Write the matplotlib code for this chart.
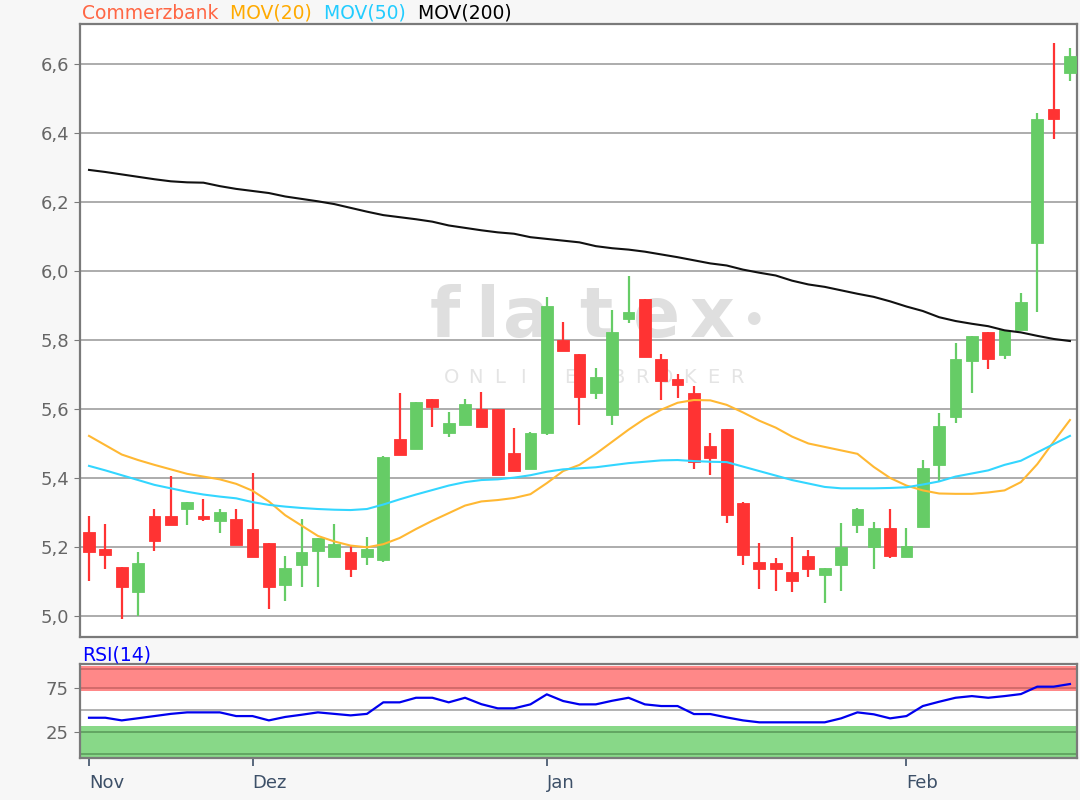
import numpy as np
import matplotlib.pyplot as plt
from matplotlib.ticker import FuncFormatter

# daily candles, Nov .. mid Feb
opens = [5.244, 5.193, 5.141, 5.068, 5.291, 5.291, 5.310, 5.291, 5.276, 5.280,
         5.251, 5.211, 5.090, 5.148, 5.188, 5.172, 5.186, 5.172, 5.161, 5.512,
         5.484, 5.628, 5.531, 5.554, 5.599, 5.599, 5.472, 5.425, 5.530, 5.800,
         5.759, 5.647, 5.583, 5.860, 5.918, 5.744, 5.686, 5.646, 5.493, 5.541,
         5.327, 5.157, 5.153, 5.128, 5.175, 5.119, 5.148, 5.264, 5.201, 5.256,
         5.172, 5.259, 5.438, 5.578, 5.740, 5.824, 5.757, 5.829, 6.082, 6.469,
         6.575]
highs = [5.291, 5.268, 5.141, 5.186, 5.309, 5.407, 5.331, 5.338, 5.309, 5.309,
         5.414, 5.211, 5.175, 5.280, 5.227, 5.268, 5.203, 5.228, 5.465, 5.645,
         5.621, 5.628, 5.592, 5.628, 5.650, 5.599, 5.546, 5.532, 5.924, 5.853,
         5.759, 5.720, 5.887, 5.986, 5.918, 5.759, 5.701, 5.667, 5.530, 5.541,
         5.331, 5.211, 5.169, 5.228, 5.191, 5.140, 5.269, 5.314, 5.273, 5.309,
         5.256, 5.452, 5.588, 5.790, 5.812, 5.824, 5.830, 5.935, 6.457, 6.660,
         6.647]
lows = [5.101, 5.136, 4.991, 5.001, 5.188, 5.264, 5.264, 5.275, 5.240, 5.205,
        5.172, 5.020, 5.043, 5.085, 5.085, 5.172, 5.112, 5.147, 5.155, 5.467,
        5.484, 5.549, 5.520, 5.554, 5.549, 5.409, 5.420, 5.425, 5.525, 5.769,
        5.554, 5.628, 5.554, 5.848, 5.752, 5.626, 5.631, 5.425, 5.409, 5.269,
        5.148, 5.077, 5.072, 5.068, 5.114, 5.039, 5.072, 5.240, 5.136, 5.169,
        5.172, 5.259, 5.389, 5.560, 5.645, 5.715, 5.744, 5.829, 5.882, 6.382,
        6.551]
closes = [5.184, 5.177, 5.085, 5.153, 5.218, 5.264, 5.331, 5.280, 5.302, 5.205,
          5.172, 5.085, 5.140, 5.186, 5.227, 5.209, 5.136, 5.193, 5.460, 5.467,
          5.621, 5.607, 5.559, 5.614, 5.549, 5.409, 5.420, 5.530, 5.899, 5.769,
          5.636, 5.692, 5.824, 5.882, 5.752, 5.682, 5.670, 5.447, 5.457, 5.293,
          5.177, 5.136, 5.136, 5.101, 5.136, 5.140, 5.199, 5.309, 5.256, 5.175,
          5.203, 5.430, 5.552, 5.744, 5.812, 5.744, 5.829, 5.911, 6.440, 6.440,
          6.623]

mov20 = [5.522, 5.495, 5.468, 5.452, 5.438, 5.425, 5.412, 5.404, 5.396, 5.383,
         5.363, 5.332, 5.292, 5.262, 5.232, 5.216, 5.204, 5.199, 5.208, 5.226,
         5.252, 5.276, 5.298, 5.320, 5.332, 5.336, 5.342, 5.353, 5.385, 5.420,
         5.438, 5.470, 5.505, 5.540, 5.572, 5.598, 5.618, 5.626, 5.625, 5.612,
         5.590, 5.566, 5.546, 5.520, 5.500, 5.490, 5.480, 5.470, 5.432, 5.400,
         5.378, 5.364, 5.355, 5.354, 5.354, 5.358, 5.364, 5.388, 5.440, 5.505,
         5.568]
mov50 = [5.435, 5.422, 5.408, 5.394, 5.380, 5.370, 5.360, 5.352, 5.346, 5.341,
         5.330, 5.322, 5.317, 5.313, 5.310, 5.308, 5.307, 5.310, 5.323, 5.338,
         5.352, 5.365, 5.378, 5.388, 5.394, 5.396, 5.401, 5.408, 5.418, 5.425,
         5.428, 5.431, 5.437, 5.443, 5.447, 5.451, 5.452, 5.449, 5.447, 5.446,
         5.433, 5.420, 5.407, 5.394, 5.384, 5.374, 5.370, 5.370, 5.370, 5.371,
         5.373, 5.381, 5.390, 5.404, 5.413, 5.422, 5.438, 5.450, 5.474, 5.498,
         5.522]
mov200 = [6.293, 6.287, 6.280, 6.273, 6.266, 6.260, 6.257, 6.256, 6.246, 6.238,
          6.232, 6.226, 6.216, 6.209, 6.202, 6.194, 6.183, 6.172, 6.162, 6.156,
          6.150, 6.143, 6.132, 6.125, 6.118, 6.112, 6.108, 6.098, 6.093, 6.088,
          6.083, 6.072, 6.066, 6.062, 6.056, 6.048, 6.040, 6.031, 6.022, 6.016,
          6.004, 5.995, 5.987, 5.972, 5.961, 5.954, 5.944, 5.934, 5.925, 5.912,
          5.897, 5.884, 5.866, 5.855, 5.847, 5.840, 5.828, 5.822, 5.812, 5.803,
          5.797]

rsi = [41.6, 41.6, 38.6, 41.0, 43.5, 46.0, 47.7, 47.7, 47.7, 43.5,
       43.5, 38.6, 42.5, 45.0, 47.7, 46.0, 44.3, 46.0, 59.1, 59.1,
       64.3, 64.3, 59.1, 64.3, 57.0, 52.3, 52.3, 56.8, 68.2, 60.6,
       56.8, 56.8, 60.9, 64.3, 56.8, 54.9, 54.9, 45.8, 45.8, 42.0,
       38.6, 36.4, 36.4, 36.4, 36.4, 36.4, 40.9, 47.7, 45.5, 40.9,
       43.5, 54.9, 59.8, 64.3, 66.2, 64.3, 66.2, 68.5, 76.9, 76.9,
       79.9]

month_pos = [0, 10, 28, 50]
month_labels = ["Nov", "Dez", "Jan", "Feb"]
price_ticks = [5.0, 5.2, 5.4, 5.6, 5.8, 6.0, 6.2, 6.4, 6.6]
rsi_ticks = [25, 75]

UP = "#66cc66"
DOWN = "#ff3333"
GRID = "#a6a6a6"
FRAME = "#7a7a7a"
TICKC = "#666666"
FS = 13

x = np.arange(len(opens))
o = np.array(opens)
c = np.array(closes)
colors = [UP if cc >= oo else DOWN for oo, cc in zip(o, c)]

fig = plt.figure(figsize=(10.8, 8), dpi=100, facecolor="#f7f7f7")
ax = fig.add_axes([0.0741, 0.20375, 0.9231, 0.76625])
ax2 = fig.add_axes([0.0741, 0.0521, 0.9231, 0.1175])

# main price panel
ax.set_facecolor("white")
ax.set_xlim(-0.55, 60.43)
ax.set_ylim(4.939, 6.716)
for v in price_ticks:
    ax.axhline(v, color=GRID, lw=1.3, zorder=1)

# watermark, letters placed one by one (axes fractions)
for ch, px in zip("flatex", [0.366, 0.408, 0.448, 0.517, 0.578, 0.634]):
    ax.text(px, 0.489, ch, transform=ax.transAxes, ha="center", va="baseline",
            fontsize=50, color="#dfdfdf", weight="bold", zorder=0)
ax.text(0.675, 0.52, "\u25cf", transform=ax.transAxes, ha="center", va="center",
        fontsize=12, color="#dfdfdf", zorder=0)
for i, ch in enumerate("ONLINE BROKER"):
    ax.text(0.373 + i * 0.0238, 0.424, ch, transform=ax.transAxes, ha="center",
            va="center", fontsize=14, color="#e4e4e4", zorder=0)

ax.vlines(x, lows, highs, colors=colors, lw=1.6, zorder=3)
ax.bar(x, np.abs(c - o), bottom=np.minimum(o, c), width=0.72, color=colors,
       edgecolor=colors, linewidth=0.6, zorder=4)

ax.plot(x, mov20, color="#ffb833", lw=1.5, zorder=5)
ax.plot(x, mov50, color="#33d6ff", lw=1.5, zorder=5)
ax.plot(x, mov200, color="#111111", lw=1.5, zorder=5)

ax.set_yticks(price_ticks)
ax.yaxis.set_major_formatter(FuncFormatter(lambda v, p: ("%.1f" % v).replace(".", ",")))
ax.set_xticks([])
ax.tick_params(axis="y", length=4, color=FRAME, labelcolor=TICKC, labelsize=FS, pad=4)
for s in ax.spines.values():
    s.set_color(FRAME)
    s.set_linewidth(1.6)

# legend-like title in coloured words
t1 = fig.text(0.0759, 0.9835, "Commerzbank", color="#ff6644", fontsize=13.5, va="center")
t2 = ax.annotate("  MOV(20)", xy=(1, 0), xycoords=t1, va="bottom", color="#ffaa00", fontsize=13.5)
t3 = ax.annotate("  MOV(50)", xy=(1, 0), xycoords=t2, va="bottom", color="#22ccff", fontsize=13.5)
ax.annotate("  MOV(200)", xy=(1, 0), xycoords=t3, va="bottom", color="#000000", fontsize=13.5)

# RSI panel
ax2.set_facecolor("white")
ax2.set_xlim(-0.55, 60.43)
ax2.set_ylim(-4.5, 102.3)
ax2.axhspan(72, 100.7, color="#ff8888", lw=0, zorder=1)
ax2.axhspan(-2.7, 32.5, color="#88d888", lw=0, zorder=1)
ax2.axhline(97.5, color="#cc6666", lw=1.2, zorder=2)
ax2.axhline(75, color="#cc6666", lw=1.2, zorder=2)
ax2.axhline(25, color="#5c9c5c", lw=1.2, zorder=2)
ax2.axhline(0, color="#5c9c5c", lw=1.2, zorder=2)
ax2.axhline(50, color=GRID, lw=1.2, zorder=2)
ax2.plot(x, rsi, color="#0000ee", lw=1.6, zorder=3)

ax2.set_yticks(rsi_ticks)
ax2.set_yticklabels([str(t) for t in rsi_ticks])
ax2.set_xticks(month_pos)
ax2.set_xticklabels(month_labels, ha="left")
ax2.tick_params(axis="y", length=4, color=FRAME, labelcolor=TICKC, labelsize=FS, pad=4)
ax2.tick_params(axis="x", length=6, width=1.2, color="#3d5068", labelcolor="#3d5068",
                labelsize=FS, pad=5)
for s in ax2.spines.values():
    s.set_color(FRAME)
    s.set_linewidth(1.6)
fig.text(0.0759, 0.181, "RSI(14)", color="#0000ff", fontsize=13.5, va="center")

fig.savefig("out.png", dpi=100, facecolor=fig.get_facecolor())
